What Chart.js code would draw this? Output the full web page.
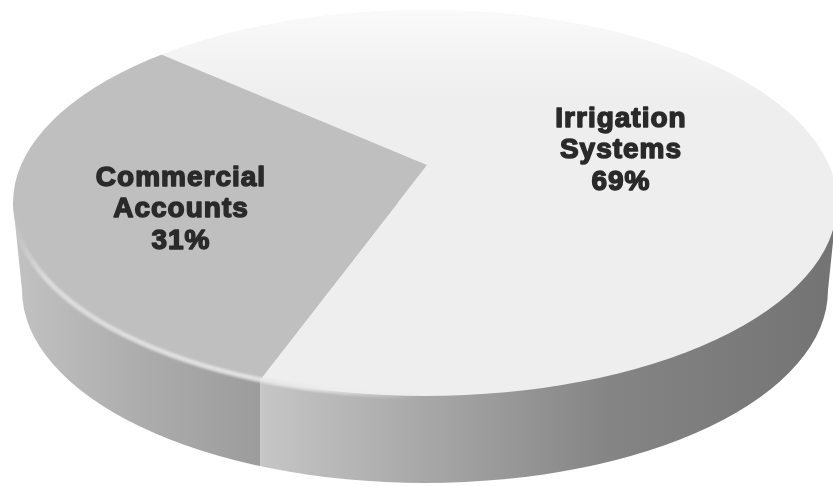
<!DOCTYPE html>
<html>
<head>
<meta charset="utf-8">
<title>Pie</title>
<script src="https://cdn.jsdelivr.net/npm/chart.js@4"></script>
<style>
html, body { margin: 0; padding: 0; background: #fff; }
canvas { display: block; filter: blur(0.7px); }
</style>
</head>
<body>
<canvas id="pieChart" width="833" height="486"></canvas>
<script>
var categories = ["Commercial Accounts", "Irrigation Systems"];
var values = [31, 69];
var sliceColors = ["#bfbfbf", "#eeeeee"];
var labelLines = [["Commercial", "Accounts", "31%"], ["Irrigation", "Systems", "69%"]];

// the disc in the picture, the apex sits above its centre because of the perspective
var disc = { x: 425, y: 203, rx: 412, ry: 193, depth: 87, bottomRx: 403 };
var apex = { x: 427, y: 165 };
var squash = disc.ry / disc.rx;
var labelPos = [{ x: 181, y: 178 }, { x: 621, y: 119 }];

function discPath(ctx) {
    ctx.beginPath();
    ctx.ellipse(disc.x, disc.y, disc.rx, disc.ry, 0, 0, Math.PI * 2);
}

function sidePath(ctx) {
    ctx.beginPath();
    ctx.moveTo(disc.x - disc.rx, disc.y);
    ctx.lineTo(disc.x - disc.bottomRx, disc.y + disc.depth);
    ctx.ellipse(disc.x, disc.y + disc.depth, disc.bottomRx, disc.ry, 0, Math.PI, 0, true);
    ctx.lineTo(disc.x + disc.rx, disc.y);
    ctx.closePath();
}

// where a slice edge leaves the top of the disc
function rimX(angle) {
    var dx = Math.cos(angle), dy = Math.sin(angle) * squash;
    var ox = (apex.x - disc.x) / disc.rx, oy = (apex.y - disc.y) / disc.ry;
    var ux = dx / disc.rx, uy = dy / disc.ry;
    var a = ux * ux + uy * uy, b = 2 * (ox * ux + oy * uy), c = ox * ox + oy * oy - 1;
    var t = (-b + Math.sqrt(b * b - 4 * a * c)) / (2 * a);
    return apex.x + t * dx;
}

function drawArc(ctx, arc) {
    ctx.save();
    ctx.translate(apex.x, apex.y);
    ctx.scale(2.2, 2.2 * squash);
    ctx.translate(-arc.x, -arc.y);
    arc.draw(ctx);
    ctx.restore();
}

var piePlugin = {
    id: "tiltedPie",
    beforeDatasetDraw: function (chart) {
        var ctx = chart.ctx;
        var arcs = chart.getDatasetMeta(0).data;
        var split = rimX(arcs[0].startAngle);

        // side wall
        ctx.save();
        sidePath(ctx);
        ctx.clip();
        var left = ctx.createLinearGradient(disc.x - disc.rx, 0, split, 0);
        left.addColorStop(0, "#c2c2c2");
        left.addColorStop(0.5, "#adadad");
        left.addColorStop(1, "#9c9c9c");
        ctx.fillStyle = left;
        ctx.fillRect(0, 0, split, 486);
        var right = ctx.createLinearGradient(split, 0, disc.x + disc.rx, 0);
        right.addColorStop(0, "#c6c6c6");
        right.addColorStop(0.3, "#a6a6a6");
        right.addColorStop(0.6, "#858585");
        right.addColorStop(1, "#737373");
        ctx.fillStyle = right;
        ctx.fillRect(split, 0, 833 - split, 486);
        ctx.restore();

        // top face, slices come from the library's arc elements
        ctx.save();
        discPath(ctx);
        ctx.clip();
        drawArc(ctx, arcs[1]);
        var fade = ctx.createLinearGradient(0, 10, 0, 100);
        fade.addColorStop(0, "rgba(255,255,255,0.7)");
        fade.addColorStop(1, "rgba(255,255,255,0)");
        ctx.fillStyle = fade;
        ctx.fillRect(0, 0, 833, 100);
        drawArc(ctx, arcs[0]);
        ctx.restore();

        // light rim on the lower left edge
        var rim = ctx.createLinearGradient(disc.x - disc.rx, 0, 420, 0);
        rim.addColorStop(0, "rgba(225,225,225,0)");
        rim.addColorStop(0.08, "rgba(225,225,225,0.85)");
        rim.addColorStop(0.7, "rgba(232,232,232,0.9)");
        rim.addColorStop(1, "rgba(240,240,240,0)");
        ctx.save();
        ctx.strokeStyle = rim;
        ctx.lineWidth = 5;
        ctx.filter = "blur(1px)";
        ctx.beginPath();
        ctx.ellipse(disc.x, disc.y, disc.rx, disc.ry, 0, Math.PI * 0.5, Math.PI * 0.99);
        ctx.stroke();
        ctx.restore();
        return false;
    },
    afterDatasetsDraw: function (chart) {
        var ctx = chart.ctx;
        ctx.save();
        ctx.fillStyle = "#2a2a2a";
        ctx.strokeStyle = "#2a2a2a";
        ctx.lineWidth = 1.5;
        ctx.lineJoin = "round";
        ctx.font = "bold 28px 'Liberation Sans'";
        ctx.letterSpacing = "1px";
        ctx.textAlign = "center";
        ctx.textBaseline = "middle";
        labelLines.forEach(function (lines, i) {
            lines.forEach(function (line, j) {
                var y = labelPos[i].y + j * 31.5;
                ctx.fillText(line, labelPos[i].x, y);
                ctx.strokeText(line, labelPos[i].x, y);
            });
        });
        ctx.restore();
    }
};

var ctx = document.getElementById("pieChart");
var myChart = new Chart(ctx, {
    type: "pie",
    data: {
        labels: categories,
        datasets: [{
            data: values,
            backgroundColor: sliceColors,
            borderWidth: 0
        }]
    },
    options: {
        responsive: false,
        animation: false,
        rotation: 200,
        plugins: {
            legend: { display: false },
            tooltip: { enabled: false }
        }
    },
    plugins: [piePlugin]
});
</script>
</body>
</html>
